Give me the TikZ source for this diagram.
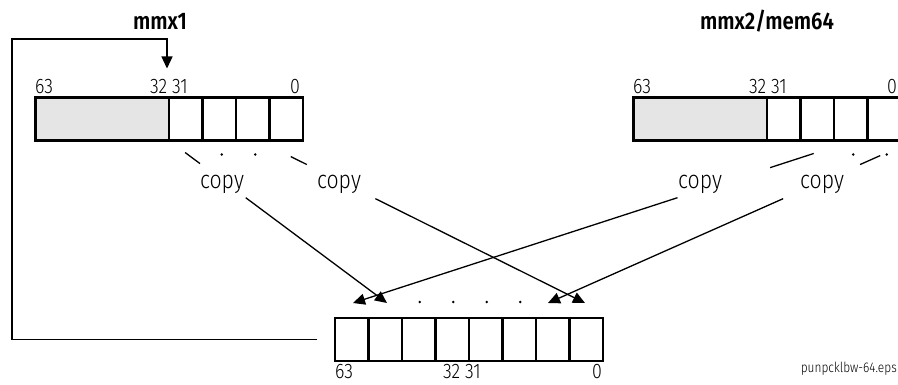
\documentclass[tikz,border=0pt]{standalone}
\usepackage{fontspec}
\setmainfont{Fira Sans}[UprightFont={* Light}, BoldFont={* SemiBold}, FakeStretch=0.85]
\usetikzlibrary{arrows.meta,calc}
\definecolor{regfill}{HTML}{E5E5E5}
\tikzset{
  regcell/.style={draw, line width=2.7pt, minimum height=43pt, minimum width=33.5pt, inner sep=0pt, outer sep=0pt},
  greycell/.style={regcell, fill=regfill, minimum width=133.5pt},
  conn/.style={line width=1.3pt},
  tipA/.style={-{Triangle[length=12pt,width=11pt]}},
  bitlbl/.style={inner sep=0pt, font=\fontsize{21}{23}\selectfont},
  copylbl/.style={inner sep=0pt, font=\fontsize{25}{27}\selectfont},
  titlelbl/.style={inner sep=0pt, font=\fontsize{24}{26}\selectfont\bfseries},
  epslbl/.style={inner sep=0pt, font=\fontsize{14}{16}\selectfont},
  dotmark/.style={fill=black}
}
\begin{document}
\begin{tikzpicture}[x=1pt,y=-1pt]
\useasboundingbox (0,0) rectangle (898,385);
% titles
\node[titlelbl, anchor=base] (t1) at (160,30) {mmx1};
\node[titlelbl, anchor=base] (t2) at (767,30) {mmx2/mem64};
% left register
\node[greycell] (G1) at (102.25,119) {};
\foreach \i in {1,...,4} {
  \node[regcell] (L\i) at ({169+16.75+33.5*(\i-1)},119) {};
}
% right register
\node[greycell] (G2) at (700.25,119) {};
\foreach \i in {1,...,4} {
  \node[regcell] (R\i) at ({767+16.75+33.5*(\i-1)},119) {};
}
% bottom register
\foreach \i in {1,...,8} {
  \node[regcell] (B\i) at ({335+16.75+33.5*(\i-1)},339.5) {};
}
% bit labels
\node[bitlbl, anchor=base west] (l63) at (35,94) {63};
\node[bitlbl, anchor=base] (l32) at (169,94) {32 31};
\node[bitlbl, anchor=base] (l0) at (295,94) {0};
\node[bitlbl, anchor=base west] (r63) at (633,94) {63};
\node[bitlbl, anchor=base] (r32) at (768,94) {32 31};
\node[bitlbl, anchor=base] (r0) at (892,94) {0};
\node[bitlbl, anchor=base west] (b63) at (335,378) {63};
\node[bitlbl, anchor=base] (b32) at (462,378) {32 31};
\node[bitlbl, anchor=base] (b0) at (597,378) {0};
% copy labels
\node[copylbl, anchor=base] (c1) at (222,189) {copy};
\node[copylbl, anchor=base] (c2) at (339,189) {copy};
\node[copylbl, anchor=base] (c3) at (700,189) {copy};
\node[copylbl, anchor=base] (c4) at (822,189) {copy};
% eps label
\node[epslbl, anchor=base east] (eps) at (897,372) {punpcklbw-64.eps};
% copy lines
\coordinate (SA) at (L1.south west);
\coordinate (TA) at ([shift={(1.75,-15)}]B2.north);
\coordinate (SB) at ([xshift=-11pt]L4.south west);
\coordinate (TB) at ([shift={(-1.25,-15)}]B8.north);
\coordinate (SC) at ([xshift=3pt]R3.south);
\coordinate (TC) at ([shift={(1.25,-15)}]B1.north);
\coordinate (SD) at ([xshift=30pt]R4.south);
\coordinate (TD) at ([shift={(-4.75,-15)}]B7.north);
\draw[conn] ($(SA)!0.074!(TA)$) -- ($(SA)!0.142!(TA)$);
\draw[conn,tipA] ($(SA)!0.352!(TA)$) -- (TA);
\draw[conn] ($(SB)!0.099!(TB)$) -- ($(SB)!0.148!(TB)$);
\draw[conn,tipA] ($(SB)!0.358!(TB)$) -- (TB);
\draw[conn] ($(SC)!0.080!(TC)$) -- ($(SC)!0.167!(TC)$);
\draw[conn,tipA] ($(SC)!0.352!(TC)$) -- (TC);
\draw[conn] ($(SD)!0.093!(TD)$) -- ($(SD)!0.148!(TD)$);
\draw[conn,tipA] ($(SD)!0.358!(TD)$) -- (TD);
% dots
\foreach \n in {L2,L3,R3,R4} {
  \fill[dotmark] ($(\n.south)+(2.5,14)$) circle (1.4pt);
}
\foreach \n in {B3,B4,B5,B6} {
  \fill[dotmark] ($(\n.north)+(1,-16)$) circle (1.4pt);
}
% feedback loop
\coordinate (loopTL) at (12,39);
\coordinate (tipTop) at ([shift={(-2,-29)}]G1.north east);
\draw[conn,tipA] ([xshift=-18pt]B1.west) -| (loopTL) -| (tipTop);
\end{tikzpicture}
\end{document}
